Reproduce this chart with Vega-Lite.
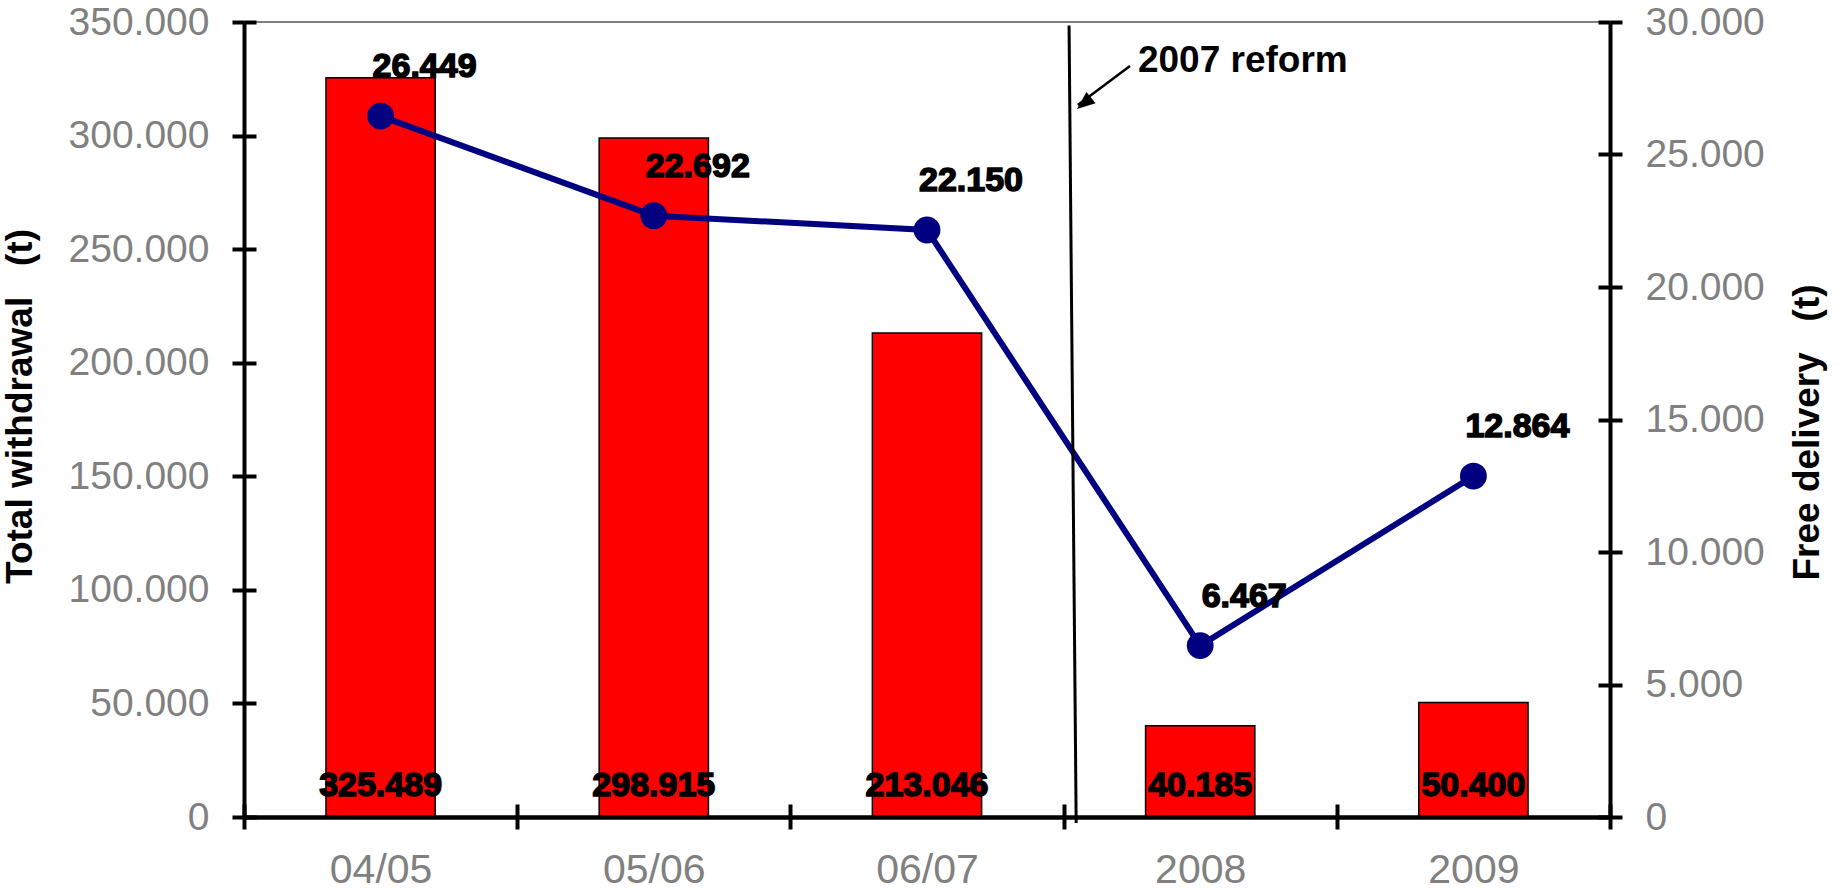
{
  "$schema": "https://vega.github.io/schema/vega-lite/v6.json",
  "width": 1366,
  "height": 795,
  "autosize": {"type": "none"},
  "padding": {"left": 244, "top": 22, "right": 233, "bottom": 75},
  "config": {
    "locale": {"number": {"decimal": ",", "thousands": ".", "grouping": [3], "currency": ["", ""]}},
    "view": {"stroke": "#808080", "strokeWidth": 2},
    "font": "Liberation Sans"
  },
  "datasets": {
    "main": [
      {"period": "04/05", "withdrawal": 325489, "delivery": 26449},
      {"period": "05/06", "withdrawal": 298915, "delivery": 22692},
      {"period": "06/07", "withdrawal": 213046, "delivery": 22150},
      {"period": "2008", "withdrawal": 40185, "delivery": 6467},
      {"period": "2009", "withdrawal": 50400, "delivery": 12864}
    ],
    "reform": [{"x": 3.02, "x2": 3.046, "y": 348500, "y2": -2600}],
    "arrow": [{"x": 3.243, "x2": 3.052, "y": 330629, "y2": 313500}],
    "arrowhead": [{"x": 3.049, "y": 311698}],
    "note": [{"x": 3.272, "y": 28113, "label": "2007 reform"}]
  },
  "layer": [
    {
      "data": {"name": "main"},
      "layer": [
        {
          "mark": {"type": "bar", "color": "#FF0000", "stroke": "#000000", "strokeWidth": 1.5, "width": {"band": 0.4}},
          "encoding": {
            "x": {
              "field": "period", "type": "nominal", "sort": null,
              "scale": {"type": "band", "paddingInner": 0, "paddingOuter": 0},
              "axis": {
                "orient": "bottom", "title": null, "labelAngle": 0,
                "labelColor": "#808080", "labelFontSize": 41, "labelFont": "Liberation Sans", "labelPadding": 21,
                "domainColor": "#000000", "domainWidth": 4.5,
                "tickColor": "#000000", "tickWidth": 4, "tickSize": 12, "tickBand": "extent",
                "grid": false, "zindex": 1
              }
            },
            "y": {
              "field": "withdrawal", "type": "quantitative",
              "scale": {"domain": [0, 350000], "nice": false},
              "axis": {
                "orient": "left",
                "values": [0, 50000, 100000, 150000, 200000, 250000, 300000, 350000],
                "format": ",d",
                "domainColor": "#000000", "domainWidth": 4,
                "tickColor": "#000000", "tickWidth": 4, "tickSize": 12,
                "labelColor": "#808080", "labelFontSize": 39, "labelFont": "Liberation Sans", "labelPadding": 23,
                "title": "Total withdrawal\u00a0\u00a0\u00a0(t)", "titleFontSize": 37, "titleFont": "Liberation Sans",
                "titleFontWeight": "bold", "titleColor": "#000000", "titlePadding": 29, "titleY": 384,
                "grid": false, "zindex": 1
              }
            }
          }
        },
        {
          "mark": {"type": "text", "fontSize": 34, "fontWeight": "bold", "font": "Liberation Sans", "color": "#000000", "stroke": "#000000", "strokeWidth": 1.5, "baseline": "middle", "align": "center", "dy": -31},
          "encoding": {
            "x": {"field": "period", "type": "nominal", "sort": null},
            "y": {"datum": 0, "type": "quantitative"},
            "text": {"field": "withdrawal", "type": "quantitative", "format": ",d"}
          }
        }
      ]
    },
    {
      "data": {"name": "main"},
      "encoding": {
        "x": {"field": "period", "type": "nominal", "sort": null, "scale": {"type": "point", "padding": 0.5}, "axis": null},
        "y": {
          "field": "delivery", "type": "quantitative",
          "scale": {"domain": [0, 30000], "nice": false},
          "axis": {
            "orient": "right",
            "values": [0, 5000, 10000, 15000, 20000, 25000, 30000],
            "format": ",d",
            "domainColor": "#000000", "domainWidth": 4,
            "tickColor": "#000000", "tickWidth": 4, "tickSize": 12,
            "labelColor": "#808080", "labelFontSize": 39, "labelFont": "Liberation Sans", "labelPadding": 23,
            "title": "Free delivery\u00a0\u00a0\u00a0(t)", "titleFontSize": 37, "titleFont": "Liberation Sans",
            "titleFontWeight": "bold", "titleColor": "#000000", "titlePadding": 25,
            "titleAngle": 270, "titleBaseline": "top", "titleY": 410,
            "grid": false, "zindex": 1
          }
        }
      },
      "layer": [
        {"mark": {"type": "line", "color": "#000080", "strokeWidth": 6}},
        {"mark": {"type": "point", "filled": true, "color": "#000080", "size": 720, "opacity": 1}},
        {
          "mark": {"type": "text", "fontSize": 34, "fontWeight": "bold", "font": "Liberation Sans", "color": "#000000", "stroke": "#000000", "strokeWidth": 1.5, "baseline": "middle", "align": "center", "dx": 44, "dy": -49},
          "encoding": {"text": {"field": "delivery", "type": "quantitative", "format": ",d"}}
        }
      ]
    },
    {
      "layer": [
        {
          "data": {"name": "reform"},
          "mark": {"type": "rule", "color": "#000000", "strokeWidth": 3},
          "encoding": {
            "x": {
              "field": "x", "type": "quantitative", "scale": {"domain": [0, 5], "nice": false, "zero": false},
              "axis": {"orient": "bottom", "values": [0, 1, 2, 3, 4, 5], "tickSize": -13, "labels": false, "domain": false, "tickColor": "#000000", "tickWidth": 4, "grid": false, "title": null, "zindex": 1}
            },
            "x2": {"field": "x2"},
            "y": {
              "field": "y", "type": "quantitative", "scale": {"domain": [0, 350000], "nice": false},
              "axis": {"orient": "left", "values": [0, 50000, 100000, 150000, 200000, 250000, 300000, 350000], "tickSize": -12, "labels": false, "domain": false, "tickColor": "#000000", "tickWidth": 4, "grid": false, "title": null, "zindex": 1}
            },
            "y2": {"field": "y2"}
          }
        },
        {
          "data": {"name": "arrow"},
          "mark": {"type": "rule", "color": "#000000", "strokeWidth": 2.5},
          "encoding": {
            "x": {"field": "x", "type": "quantitative"},
            "x2": {"field": "x2"},
            "y": {"field": "y", "type": "quantitative"},
            "y2": {"field": "y2"}
          }
        },
        {
          "data": {"name": "arrowhead"},
          "mark": {"type": "point", "shape": "M0,0L-0.4,1L0.4,1Z", "filled": true, "color": "#000000", "opacity": 1, "size": 1300, "angle": 231},
          "encoding": {
            "x": {"field": "x", "type": "quantitative"},
            "y": {"field": "y", "type": "quantitative"}
          }
        }
      ]
    },
    {
      "data": {"name": "note"},
      "mark": {"type": "text", "fontSize": 37, "fontWeight": "bold", "font": "Liberation Sans", "color": "#000000", "align": "left", "baseline": "alphabetic"},
      "encoding": {
        "x": {"field": "x", "type": "quantitative", "scale": {"domain": [0, 5], "nice": false, "zero": false}, "axis": null},
        "y": {
          "field": "y", "type": "quantitative", "scale": {"domain": [0, 30000], "nice": false},
          "axis": {"orient": "right", "values": [0, 5000, 10000, 15000, 20000, 25000, 30000], "tickSize": -12, "labels": false, "domain": false, "tickColor": "#000000", "tickWidth": 4, "grid": false, "title": null, "zindex": 1}
        },
        "text": {"field": "label"}
      }
    }
  ],
  "resolve": {"scale": {"x": "independent", "y": "independent"}}
}
